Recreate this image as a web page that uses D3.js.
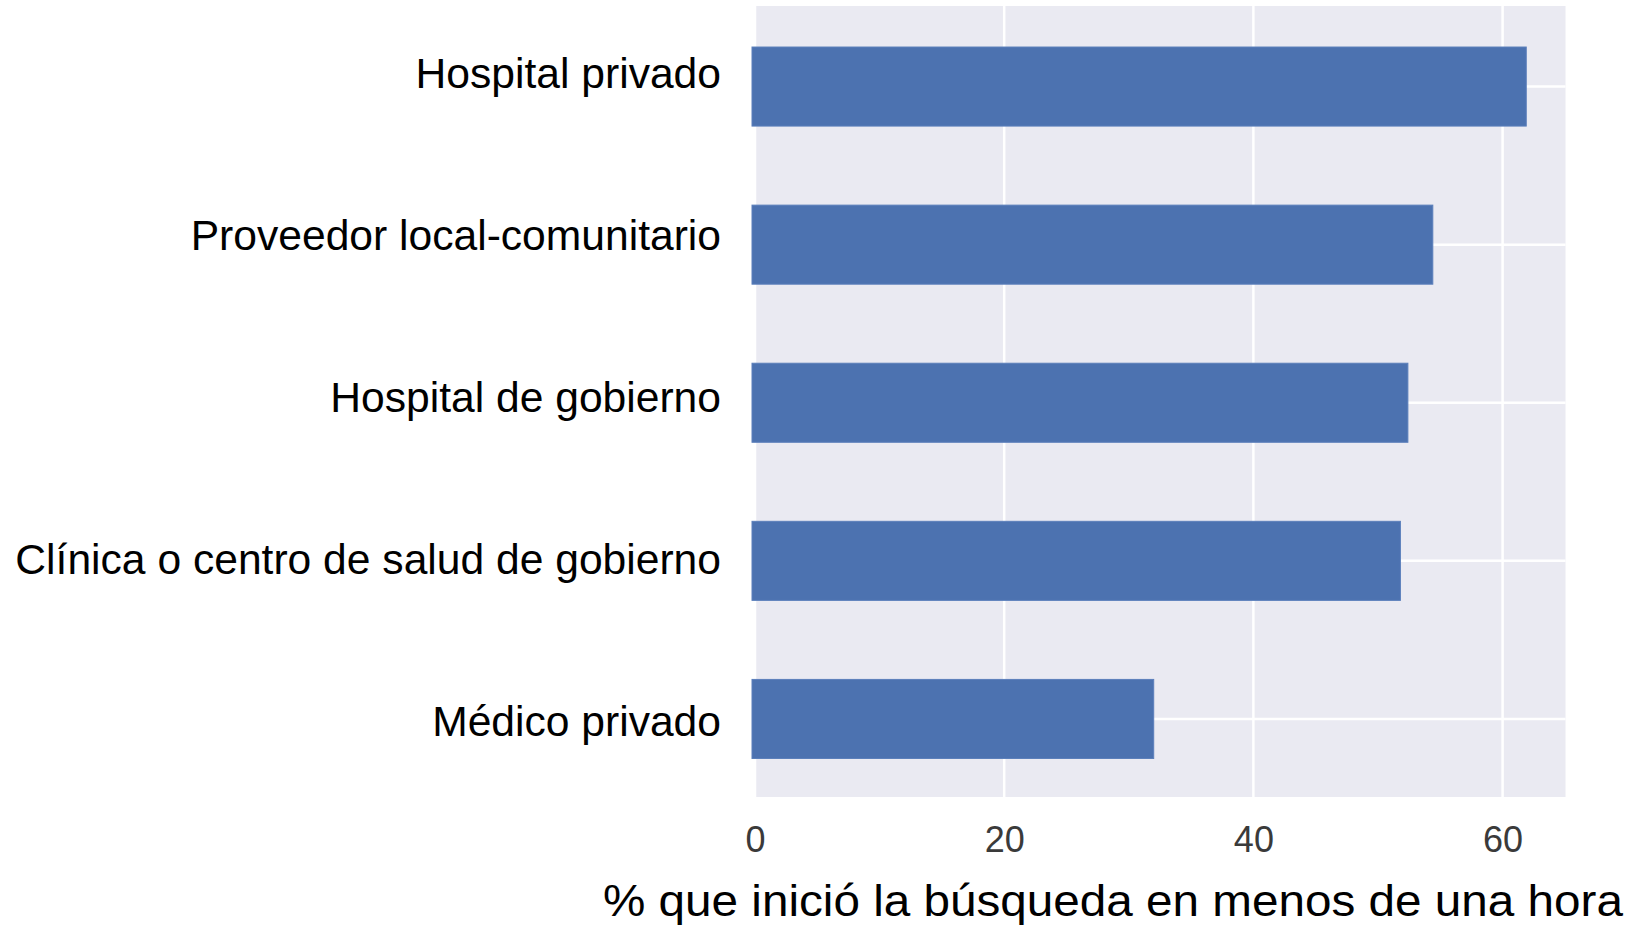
<!DOCTYPE html>
<html>
<head>
<meta charset="utf-8">
<script src="https://cdn.jsdelivr.net/npm/d3@7"></script>
<style>
  html, body { margin: 0; padding: 0; background: #fff; }
  svg text { font-family: "Liberation Sans", Arial, sans-serif; }
</style>
</head>
<body>
<svg id="chart"></svg>
<script>
var categories = ['Hospital privado', 'Proveedor local-comunitario', 'Hospital de gobierno',
    'Clínica o centro de salud de gobierno', 'Médico privado']
var values = [61.9, 54.4, 52.4, 51.8, 32.0]
var xTicks = [0, 20, 40, 60]
var xLabel = '% que inició la búsqueda en menos de una hora'

var width = 1643
var height = 925
var plot = { left: 755, right: 1565.5, top: 6, bottom: 797 }
var barColor = '#4C72B0'
var bgColor = '#EAEAF2'

var svg = d3.select('#chart')
    .attr('width', width)
    .attr('height', height)

var xScale = d3.scaleLinear().domain([0, 65.05]).range([plot.left, plot.right])
var yScale = d3.scaleBand().domain(categories).range([plot.top + 1.5, plot.bottom + 1])
    .paddingInner(0.5).paddingOuter(0.25)
// labels sit on a slightly wider spacing than the bars in the original
var labelScale = d3.scalePoint().domain(categories).range([88, 736])

// background
svg.append('rect')
    .attr('x', plot.left)
    .attr('y', plot.top)
    .attr('width', plot.right - plot.left)
    .attr('height', plot.bottom - plot.top)
    .attr('fill', bgColor)

// grid
var grid = svg.append('g')
grid.selectAll('.vgrid')
    .data(xTicks)
    .enter()
    .append('line')
    .attr('class', 'vgrid')
    .attr('x1', function (d) { return xScale(d) })
    .attr('x2', function (d) { return xScale(d) })
    .attr('y1', plot.top)
    .attr('y2', plot.bottom)
    .attr('stroke', '#fff')
    .attr('stroke-width', 2.5)
grid.selectAll('.hgrid')
    .data(categories)
    .enter()
    .append('line')
    .attr('class', 'hgrid')
    .attr('x1', plot.left)
    .attr('x2', plot.right)
    .attr('y1', function (d) { return yScale(d) + yScale.bandwidth() / 2 })
    .attr('y2', function (d) { return yScale(d) + yScale.bandwidth() / 2 })
    .attr('stroke', '#fff')
    .attr('stroke-width', 2.5)

// bars
svg.append('g')
    .selectAll('rect')
    .data(values)
    .enter()
    .append('rect')
    .attr('x', xScale(0) - 3)
    .attr('y', function (d, i) { return yScale(categories[i]) })
    .attr('width', function (d) { return xScale(d) - xScale(0) + 3 })
    .attr('height', yScale.bandwidth())
    .attr('fill', barColor)
    .attr('stroke', '#5b7fbb')
    .attr('stroke-width', 1)

// x axis tick labels
var xAxis = d3.axisBottom(xScale)
    .tickValues(xTicks)
    .tickSize(0)
    .tickPadding(0)
var xAxisG = svg.append('g')
    .attr('transform', 'translate(0,' + plot.bottom + ')')
    .call(xAxis)
xAxisG.select('.domain').remove()
xAxisG.selectAll('text')
    .attr('y', 55)
    .attr('dy', null)
    .style('font-family', '"Liberation Sans", Arial, sans-serif')
    .style('font-size', '36px')
    .attr('fill', '#3a3a3a')

// category labels
svg.append('g')
    .selectAll('text')
    .data(categories)
    .enter()
    .append('text')
    .attr('x', 721)
    .attr('y', function (d) { return labelScale(d) })
    .attr('text-anchor', 'end')
    .style('font-size', '42.6px')
    .attr('fill', '#000')
    .text(function (d) { return d })

// x axis title
svg.append('text')
    .attr('x', 603)
    .attr('y', 916)
    .attr('textLength', 1020)
    .attr('lengthAdjust', 'spacingAndGlyphs')
    .style('font-size', '44px')
    .attr('fill', '#000')
    .text(xLabel)
</script>
</body>
</html>
